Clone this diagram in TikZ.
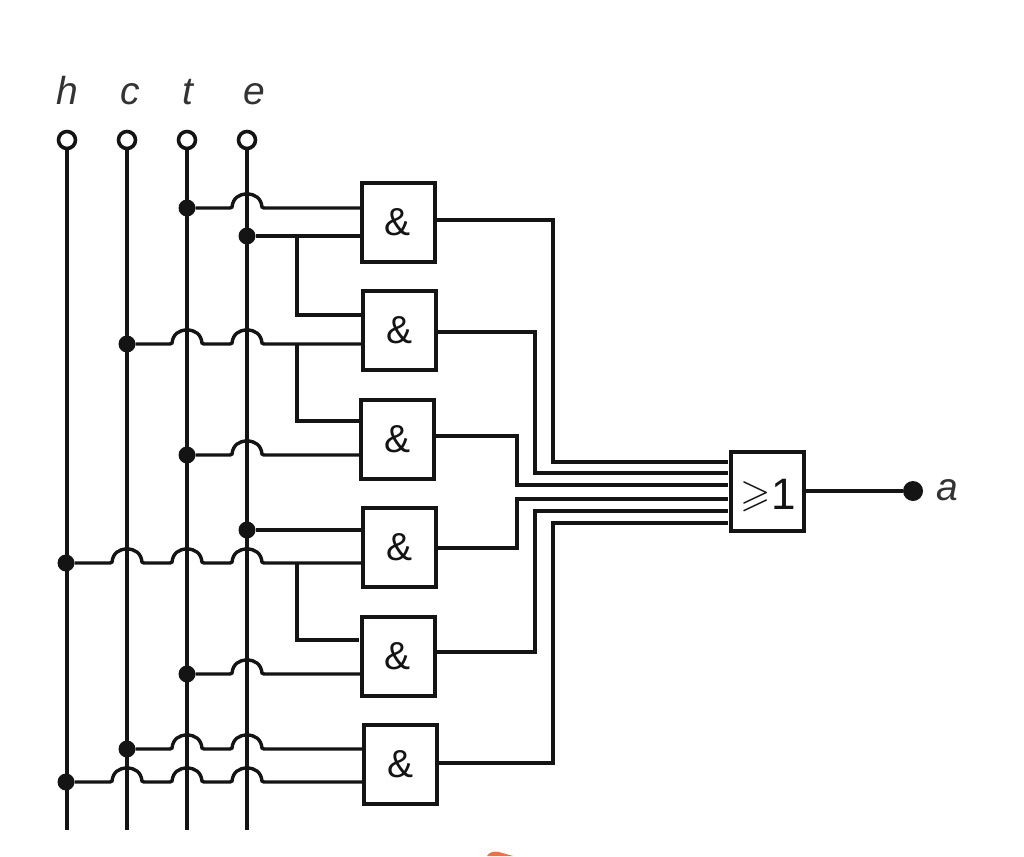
\documentclass[tikz,border=0pt]{standalone}
\usepackage{amssymb}
\usepackage{fontspec}
\setmainfont{Liberation Sans}
\usetikzlibrary{calc}
\definecolor{ink}{HTML}{141414}
\definecolor{labelink}{HTML}{333333}
\definecolor{smudge}{HTML}{EC7245}
\tikzset{
  wire/.style={draw=ink,line width=3.4pt,line join=miter},
  gate/.style={draw=ink,fill=white,line width=4pt,minimum width=73pt,minimum height=79pt,inner sep=0pt,outer sep=0pt,text=ink,font=\fontsize{39}{39}\selectfont},
  junction/.style={circle,fill=ink,minimum size=17pt,inner sep=0pt,outer sep=0pt},
  terminal/.style={circle,draw=ink,fill=white,line width=3.6pt,minimum size=17pt,inner sep=0pt,outer sep=0pt},
  sig/.style={anchor=base,inner sep=0pt,text=labelink,font=\fontsize{39}{39}\selectfont\itshape},
  crosshop/.style={to path={
    -- ($(\tikztotarget)+(-17,0)$) -- ($(\tikztotarget)+(-15,-1)$)
    .. controls ($(\tikztotarget)+(-14,-10)$) and ($(\tikztotarget)+(-8,-14)$) .. ($(\tikztotarget)+(0,-14)$)
    .. controls ($(\tikztotarget)+(8,-14)$) and ($(\tikztotarget)+(14,-10)$) .. ($(\tikztotarget)+(15,-1)$) -- ($(\tikztotarget)+(17,0)$)}}
}
\begin{document}
\begin{tikzpicture}[x=1pt,y=-1pt]
\useasboundingbox (0,0) rectangle (1024,856);
\fill[smudge] (487,856) .. controls (489,852) and (494,851) .. (499,852) -- (513,856) -- cycle;

% input terminals and labels
\node[terminal] (th) at (67,140) {};
\node[terminal] (tc) at (127,140) {};
\node[terminal] (tt) at (187,140) {};
\node[terminal] (te) at (247,140) {};
\coordinate (vh) at (67,830);
\coordinate (vc) at (127,830);
\coordinate (vt) at (187,830);
\coordinate (ve) at (247,830);
\node[sig] (lh) at (67,105) {h};
\node[sig] (lc) at (130,105) {c};
\node[sig] (lt) at (188,105) {t};
\node[sig] (le) at (254,105) {e};

% gates
\node[gate] (b1) at (398,222) {\&};
\node[gate] (b2) at (399.5,330.5) {\&};
\node[gate] (b3) at (397.5,439) {\&};
\node[gate] (b4) at (399,547.5) {\&};
\node[gate] (b5) at (398,656) {\&};
\node[gate] (b6) at (400,764) {\&};
\node[gate] (or) at (767,491) {\smash{\raisebox{-18pt}{\kern2pt\raisebox{3pt}{$\geqslant$}\kern1pt\fontsize{44}{44}\selectfont 1}}};

% junctions
\node[junction] (d1t) at (187,208) {};
\node[junction] (d1e) at (247,236) {};
\node[junction] (d2c) at (127,344) {};
\node[junction] (d3t) at (187,455) {};
\node[junction] (d4e) at (247,530) {};
\node[junction] (d4h) at (66,563) {};
\node[junction] (d5t) at (187,674) {};
\node[junction] (d6c) at (127,749) {};
\node[junction] (d6h) at (66,782) {};
\node[circle,fill=ink,minimum size=20pt,inner sep=0pt] (out) at (913,491) {};
\node[sig] (la) at (947,500) {a};

% input buses
\draw[wire] (th) -- (vh);
\draw[wire] (tc) -- (vc);
\draw[wire] (tt) -- (vt);
\draw[wire] (te) -- (ve);

% gate inputs
\draw[wire] (d1t) to[crosshop] (ve |- d1t) -- (b1.west |- d1t);
\draw[wire] (d1e) -- (b1.west |- d1e);
\coordinate (sp) at (297,300);
\coordinate (i2a) at (361,315);
\coordinate (i3a) at (359,421);
\coordinate (i5a) at (359,640);
\draw[wire] (sp |- d1e) |- (i2a);
\draw[wire] (d2c) to[crosshop] (vt |- d2c) to[crosshop] (ve |- d2c) -- (b2.west |- d2c);
\draw[wire] (sp |- d2c) |- (i3a);
\draw[wire] (d3t) to[crosshop] (ve |- d3t) -- (b3.west |- d3t);
\draw[wire] (d4e) -- (b4.west |- d4e);
\draw[wire] (d4h) to[crosshop] (vc |- d4h) to[crosshop] (vt |- d4h) to[crosshop] (ve |- d4h) -- (b4.west |- d4h);
\draw[wire] (sp |- d4h) |- (i5a);
\draw[wire] (d5t) to[crosshop] (ve |- d5t) -- (b5.west |- d5t);
\draw[wire] (d6c) to[crosshop] (vt |- d6c) to[crosshop] (ve |- d6c) -- (b6.west |- d6c);
\draw[wire] (d6h) to[crosshop] (vc |- d6h) to[crosshop] (vt |- d6h) to[crosshop] (ve |- d6h) -- (b6.west |- d6h);

% gate outputs to the OR gate
\coordinate (busA) at (553,500);
\coordinate (busB) at (535,500);
\coordinate (busC) at (517,500);
\coordinate (o1) at (436,220);
\coordinate (o2) at (438,332);
\coordinate (o3) at (436,436);
\coordinate (o4) at (438,548);
\coordinate (o5) at (437,652);
\coordinate (o6) at (439,763);
\coordinate (i1) at (728,462);
\coordinate (i2) at (728,473);
\coordinate (i3) at (728,485);
\coordinate (i4) at (728,499);
\coordinate (i5) at (728,511);
\coordinate (i6) at (728,523);
\draw[wire] (o1) -| (busA |- i1) -- (i1);
\draw[wire] (o2) -| (busB |- i2) -- (i2);
\draw[wire] (o3) -| (busC |- i3) -- (i3);
\draw[wire] (o4) -| (busC |- i4) -- (i4);
\draw[wire] (o5) -| (busB |- i5) -- (i5);
\draw[wire] (o6) -| (busA |- i6) -- (i6);
\draw[wire] (or) -- (out);
\end{tikzpicture}
\end{document}
